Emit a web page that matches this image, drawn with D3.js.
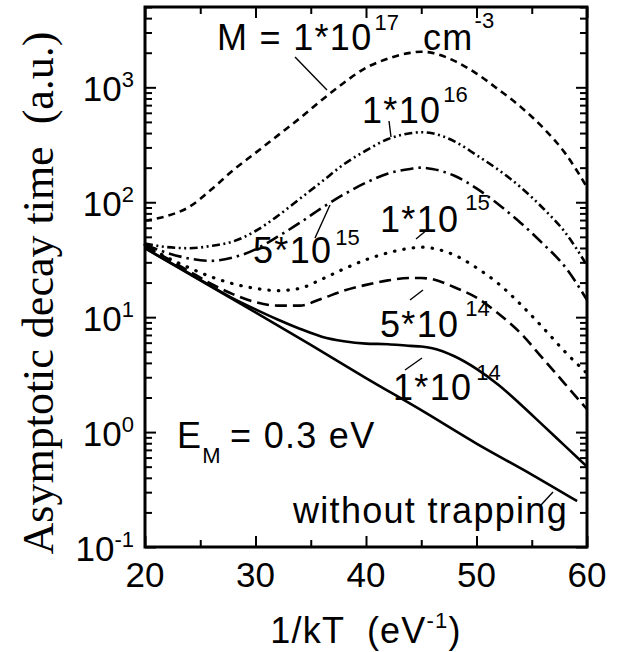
<!DOCTYPE html>
<html>
<head>
<meta charset="utf-8">
<script src="https://cdn.jsdelivr.net/npm/d3@7/dist/d3.min.js"></script>
<style>
  html, body { margin: 0; padding: 0; background: #fff; }
  svg { display: block; }
  text { font-family: "Liberation Sans", Arial, Helvetica, sans-serif; fill: #000; }
</style>
</head>
<body>
<svg id="chart" width="623" height="652"></svg>
<script>
// ---- data ----
const invKT = [20, 22, 24, 26, 28, 30, 32, 34, 36, 38, 40, 42, 44, 45, 46, 48, 50, 52, 54, 56, 58, 60];
const tauM1e17 = [69, 76, 91, 129, 191, 269, 380, 537, 776, 1096, 1479, 1778, 1995, 2042, 1995, 1698, 1318, 955, 676, 447, 269, 135];
const tauM1e16 = [43.7, 40.7, 39.8, 41.7, 45.7, 56.2, 75.9, 107, 151, 214, 282, 355, 398, 407, 398, 339, 257, 191, 135, 89.1, 55.0, 28.2];
const tauM5e15 = [42.7, 36.3, 32.4, 30.9, 33.1, 38.9, 50.1, 66.1, 89.1, 117, 148, 178, 195, 200, 195, 170, 132, 95.5, 66.1, 43.7, 27.5, 14.1];
const tauM1e15 = [42.7, 33.1, 26.9, 22.4, 19.5, 17.8, 17.0, 17.8, 21.4, 26.3, 31.6, 36.3, 39.8, 40.7, 39.8, 34.7, 26.9, 19.5, 12.9, 8.13, 5.01, 3.24];
const tauM5e14 = [41.7, 32.4, 25.1, 19.5, 15.8, 13.5, 12.6, 12.6, 14.5, 17.0, 19.1, 20.9, 21.9, 21.9, 21.4, 18.2, 14.8, 10.7, 7.24, 4.37, 2.63, 1.58];
const tauM1e14 = [39.8, 30.9, 24.0, 18.6, 14.5, 11.7, 9.55, 7.94, 6.76, 6.17, 5.89, 5.82, 5.62, 5.56, 5.37, 4.57, 3.55, 2.57, 1.74, 1.15, 0.759, 0.501];
const invKTnoTrap = [20, 25, 30, 35, 40, 45, 50, 55, 59.1];
const tauNoTrap = [39.8, 20.9, 11.0, 5.75, 2.95, 1.55, 0.794, 0.427, 0.251];
const xTickValues = [20, 30, 40, 50, 60];
const yTickExponents = [-1, 0, 1, 2, 3];

// ---- layout ----
const plot = { left: 145, right: 587, top: 7, bottom: 547 };
const svg = d3.select("#chart");

const x = d3.scaleLinear().domain([20, 60]).range([plot.left, plot.right]);
const y = d3.scaleLog().domain([0.1, 5000]).range([plot.bottom, plot.top]);

const series = [
  { x: invKT, y: tauM1e17, dash: "7,5", cap: "butt", w: 2.6 },
  { x: invKT, y: tauM1e16, dash: "8,3.5,2,3.5,2,3.5", cap: "butt", w: 2.6 },
  { x: invKT, y: tauM5e15, dash: "13,5,2.5,5", cap: "butt", w: 2.6 },
  { x: invKT, y: tauM1e15, dash: "0.5,9", cap: "round", w: 3.2 },
  { x: invKT, y: tauM5e14, dash: "12,6", cap: "butt", w: 2.6 },
  { x: invKT, y: tauM1e14, dash: null, cap: "butt", w: 2.6 },
  { x: invKTnoTrap, y: tauNoTrap, dash: null, cap: "butt", w: 2.6 }
];

const line = d3.line().curve(d3.curveMonotoneX)
  .x(d => x(d[0])).y(d => y(d[1]));

const gCurves = svg.append("g");
series.forEach(s => {
  gCurves.append("path")
    .datum(s.x.map((v, i) => [v, s.y[i]]))
    .attr("d", line)
    .attr("fill", "none")
    .attr("stroke", "#000")
    .attr("stroke-width", s.w)
    .attr("stroke-linecap", s.cap)
    .attr("stroke-dasharray", s.dash);
});

// ---- axes (ticks inward on all four sides) ----
const xMinor = d3.range(20, 61, 5);
const yAll = y.ticks();
const isMajor = v => Math.abs(Math.log10(v) - Math.round(Math.log10(v))) < 1e-6;

function styleAxis(g) {
  g.select(".domain").remove();
  g.selectAll("line").attr("stroke", "#000").attr("stroke-width", 2);
  g.selectAll("text").remove();
}
svg.append("g").attr("transform", `translate(0,${plot.bottom})`)
  .call(d3.axisBottom(x).tickValues(xMinor).tickSize(0))
  .call(styleAxis)
  .selectAll(".tick line").attr("y2", d => (d % 10 === 0 ? -11 : -7));
svg.append("g").attr("transform", `translate(0,${plot.top})`)
  .call(d3.axisTop(x).tickValues(xMinor).tickSize(0))
  .call(styleAxis)
  .selectAll(".tick line").attr("y2", d => (d % 10 === 0 ? 11 : 7));
svg.append("g").attr("transform", `translate(${plot.left},0)`)
  .call(d3.axisLeft(y).tickValues(yAll).tickSize(0))
  .call(styleAxis)
  .selectAll(".tick line").attr("x2", d => (isMajor(d) ? 11 : 7));
svg.append("g").attr("transform", `translate(${plot.right},0)`)
  .call(d3.axisRight(y).tickValues(yAll).tickSize(0))
  .call(styleAxis)
  .selectAll(".tick line").attr("x2", d => (isMajor(d) ? -11 : -7));

svg.append("rect")
  .attr("x", plot.left).attr("y", plot.top)
  .attr("width", plot.right - plot.left).attr("height", plot.bottom - plot.top)
  .attr("fill", "none").attr("stroke", "#000").attr("stroke-width", 3);

// tick labels
const tickFont = 35, supFont = 22;
svg.append("g").selectAll("text").data(xTickValues).join("text")
  .attr("x", d => x(d)).attr("y", 587)
  .attr("text-anchor", "middle").attr("font-size", tickFont)
  .text(d => d);

const yl = svg.append("g").selectAll("text").data(yTickExponents).join("text")
  .attr("x", 134).attr("y", d => y(Math.pow(10, d)) + 14)
  .attr("text-anchor", "end").attr("font-size", tickFont);
yl.append("tspan").text("10");
yl.append("tspan").attr("font-size", supFont).attr("dy", -14).text(d => d);

// axis titles
const xt = svg.append("text").attr("x", 366).attr("y", 643)
  .attr("text-anchor", "middle").attr("font-size", 36).attr("letter-spacing", 1.2)
  .attr("xml:space", "preserve");
xt.append("tspan").text("1/kT  (eV");
xt.append("tspan").attr("font-size", supFont).attr("dy", -15).text("-1");
xt.append("tspan").attr("dy", 15).text(")");

svg.append("text")
  .attr("transform", "translate(53,293) rotate(-90)")
  .attr("text-anchor", "middle")
  .attr("font-size", 44)
  .attr("xml:space", "preserve")
  .style("font-family", "'Liberation Serif', 'Times New Roman', serif")
  .text("Asymptotic decay time  (a.u.)");

// ---- annotations ----
const labFont = 36, labSpacing = 1.3;
function powLabel(xp, yp, main, sup, supDx, supDy) {
  const t = svg.append("text").attr("x", xp).attr("y", yp)
    .attr("font-size", labFont).attr("letter-spacing", labSpacing)
    .attr("xml:space", "preserve");
  t.append("tspan").text(main);
  t.append("tspan").attr("font-size", supFont).attr("letter-spacing", 0)
    .attr("dx", supDx).attr("dy", supDy).text(sup);
  return t;
}
const mLab = powLabel(217, 50, "M = 1*10", "17", 2, -20);
mLab.append("tspan").attr("x", 423).attr("dy", 20).text("cm");
mLab.append("tspan").attr("font-size", supFont).attr("letter-spacing", 0)
  .attr("dx", 1).attr("dy", -22).text("-3");
powLabel(362, 123, "1*10", "16", 2, -21);
powLabel(253, 263, "5*10", "15", 3, -18);
powLabel(380, 232, "1*10", "15", 6, -22);
powLabel(380, 337, "5*10", "14", 6, -21);
powLabel(393, 400, "1*10", "14", 4, -20);

const em = svg.append("text").attr("x", 177).attr("y", 448)
  .attr("font-size", labFont).attr("letter-spacing", labSpacing).attr("xml:space", "preserve");
em.append("tspan").text("E");
em.append("tspan").attr("font-size", supFont).attr("letter-spacing", 0).attr("dy", 15).text("M");
em.append("tspan").attr("x", 230).attr("dy", -15).text("= 0.3 eV");

svg.append("text").attr("x", 293).attr("y", 523)
  .attr("font-size", labFont).attr("letter-spacing", labSpacing).text("without trapping");

const pointers = [
  [295, 57, 327, 90],
  [389, 121, 391, 137],
  [315, 238, 330, 205],
  [416, 239, 428, 229],
  [410, 300, 423, 290],
  [405, 370, 422, 358],
  [541, 505, 553, 492]
];
svg.append("g").selectAll("line").data(pointers).join("line")
  .attr("x1", d => d[0]).attr("y1", d => d[1]).attr("x2", d => d[2]).attr("y2", d => d[3])
  .attr("stroke", "#000").attr("stroke-width", 1.4);
</script>
</body>
</html>
